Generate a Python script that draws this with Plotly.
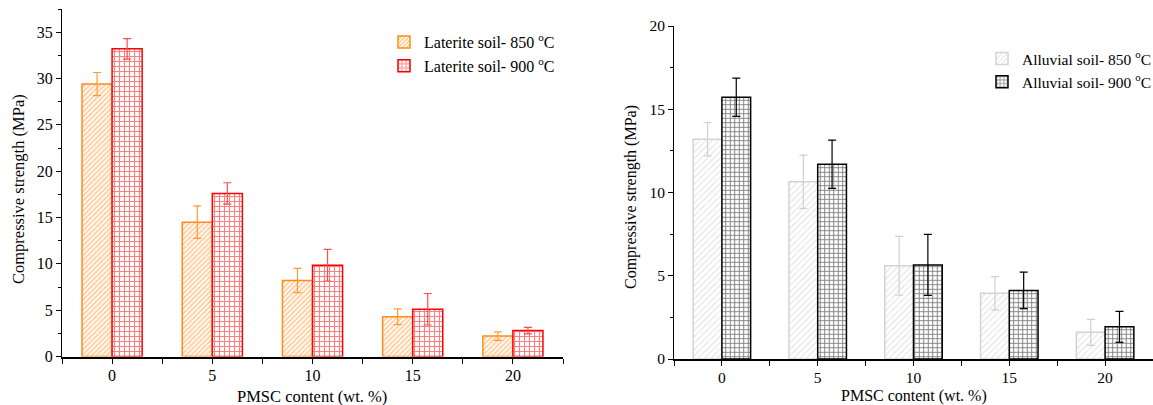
import plotly.graph_objects as go

# PMSC content categories (wt. %)
pmsc = ["0", "5", "10", "15", "20"]
pos = [0, 1, 2, 3, 4]

# Laterite soil compressive strength (MPa) and standard deviations
lat_850 = [29.4, 14.5, 8.2, 4.3, 2.2]
lat_850_err = [1.25, 1.75, 1.3, 0.85, 0.45]
lat_900 = [33.2, 17.6, 9.85, 5.1, 2.8]
lat_900_err = [1.1, 1.15, 1.7, 1.7, 0.35]

# Alluvial soil compressive strength (MPa) and standard deviations
all_850 = [13.2, 10.65, 5.6, 3.95, 1.6]
all_850_err = [1.0, 1.6, 1.77, 1.0, 0.78]
all_900 = [15.72, 11.7, 5.65, 4.12, 1.93]
all_900_err = [1.15, 1.45, 1.83, 1.1, 0.93]

FONT = "Liberation Serif, Times New Roman, serif"
W, H = 1153, 405


def px(x):
    return x / W


def py(y):
    return 1 - y / H


def bar(name, y, err, line_col, pat_shape, pat_col, pat_size, solidity, err_col, xa, ya, leg):
    return go.Bar(
        x=pos, y=y, name=name,
        xaxis=xa, yaxis=ya, legend=leg,
        marker=dict(
            color="white",
            line=dict(color=line_col, width=1.5),
            pattern=dict(shape=pat_shape, fgcolor=pat_col, bgcolor="white",
                         size=pat_size, solidity=solidity, fillmode="overlay"),
        ),
        error_y=dict(type="data", array=err, visible=True, color=err_col,
                     thickness=1.2, width=4),
    )


fig = go.Figure()
fig.add_trace(bar("Laterite soil- 850 <sup>o</sup>C", lat_850, lat_850_err, "#FF8C1A", "/",
                  "#FF8C1A", 3.5, 0.45, "#FF9A33", "x", "y", "legend"))
fig.add_trace(bar("Laterite soil- 900 <sup>o</sup>C", lat_900, lat_900_err, "#FF0000", "+",
                  "#FF0000", 5, 0.4, "#FF4D4D", "x", "y", "legend"))
fig.add_trace(bar("Alluvial soil- 850 <sup>o</sup>C", all_850, all_850_err, "#D3D3D3", "/",
                  "#CFCFCF", 4.5, 0.3, "#D0D0D0", "x2", "y2", "legend2"))
fig.add_trace(bar("Alluvial soil- 900 <sup>o</sup>C", all_900, all_900_err, "#000000", "+",
                  "#000000", 4.5, 0.38, "#000000", "x2", "y2", "legend2"))


def xaxis_style(size):
    return dict(
        tickvals=pos, ticktext=pmsc, range=[-0.5, 4.5],
        showline=True, linecolor="black", linewidth=2,
        ticks="outside", ticklen=5, tickcolor="black", tickwidth=1,
        minor=dict(tickvals=[-0.5, 0.5, 1.5, 2.5, 3.5, 4.5], ticks="outside",
                   ticklen=5, tickcolor="black"),
        showgrid=False, zeroline=False, ticklabelstandoff=-2,
        tickfont=dict(family=FONT, size=size, color="black"),
    )


def yaxis_style(size):
    return dict(
        showline=True, linecolor="black", linewidth=1,
        ticks="outside", ticklen=5, tickcolor="black",
        minor=dict(dtick=2.5, ticks="outside", ticklen=3, tickcolor="black"),
        showgrid=False, zeroline=False,
        tickfont=dict(family=FONT, size=size, color="black"),
    )


fig.update_layout(
    width=W, height=H,
    margin=dict(l=0, r=0, t=0, b=0, autoexpand=False),
    paper_bgcolor="white", plot_bgcolor="white",
    barmode="group", bargap=0.4, bargroupgap=0,
    font=dict(family=FONT, size=16, color="black"),
    xaxis=dict(domain=[px(62), px(563)], anchor="y", **xaxis_style(16)),
    yaxis=dict(domain=[py(356.5), py(9)], anchor="x", range=[0, 37.5],
               tickvals=[0, 5, 10, 15, 20, 25, 30, 35], **yaxis_style(16)),
    xaxis2=dict(domain=[px(674), 1.0], anchor="y2", **xaxis_style(15.5)),
    yaxis2=dict(domain=[py(359), py(26)], anchor="x2", range=[0, 20],
                tickvals=[0, 5, 10, 15, 20], **yaxis_style(15.5)),
    legend=dict(x=px(384), y=py(25), xanchor="left", yanchor="top",
                bgcolor="rgba(0,0,0,0)", font=dict(family=FONT, size=16),
                tracegroupgap=2, itemwidth=30),
    legend2=dict(x=px(982), y=py(42), xanchor="left", yanchor="top",
                 bgcolor="rgba(0,0,0,0)", font=dict(family=FONT, size=15.5),
                 tracegroupgap=2, itemwidth=30),
    showlegend=True,
)

annotations = [
    dict(text="Compressive strength (MPa)", x=px(18), y=py(189), textangle=-90, size=16.5),
    dict(text="PMSC content (wt. %)", x=px(312), y=py(396), size=16.5),
    dict(text="Compressive strength (MPa)", x=px(631), y=py(197), textangle=-90, size=16),
    dict(text="PMSC content (wt. %)", x=px(914), y=py(396), size=16),
]
for a in annotations:
    size = a.pop("size")
    fig.add_annotation(xref="paper", yref="paper", showarrow=False,
                       xanchor="center", yanchor="middle",
                       font=dict(family=FONT, size=size, color="black"), **a)

fig.write_html("out.html")
